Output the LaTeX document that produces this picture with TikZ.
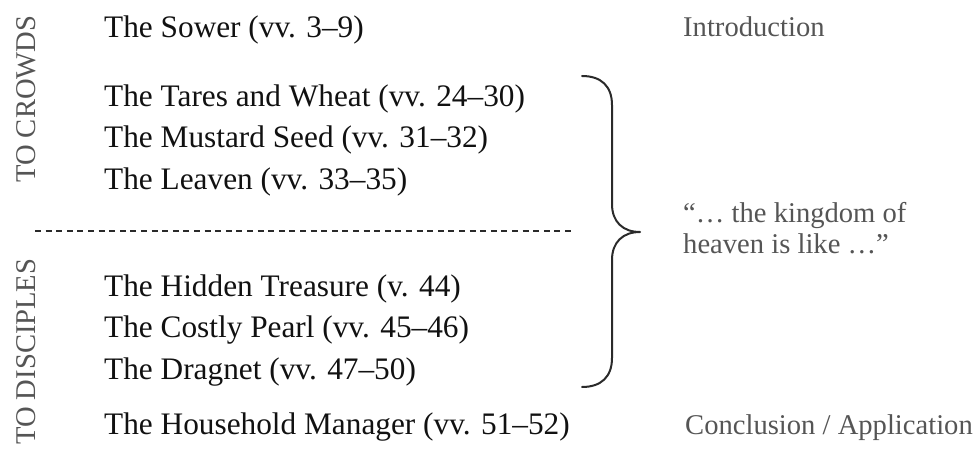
\documentclass[tikz,border=0pt]{standalone}
\usepackage{fontspec}
\setmainfont{Liberation Serif}
\definecolor{maintext}{HTML}{111111}
\definecolor{labeltext}{HTML}{555555}
\definecolor{linecol}{HTML}{2A2A2A}
\begin{document}
\begin{tikzpicture}[x=1pt,y=-1pt,
  item/.style={anchor=base west,inner sep=0pt,text=maintext,font=\fontsize{31.3}{37}\selectfont},
  side/.style={anchor=base west,inner sep=0pt,text=labeltext,font=\fontsize{28.6}{32}\selectfont},
  vlabel/.style={anchor=base west,inner sep=0pt,text=labeltext,rotate=90,font=\fontsize{28.6}{32}\selectfont},
  divider/.style={draw=linecol,line width=2pt,dash pattern=on 6pt off 4.6pt},
  bracecurve/.style={draw=linecol,line width=2pt,line cap=round,line join=round}]
\useasboundingbox (0,0) rectangle (980,449);
% group labels
\node[vlabel] (crowds) at (35,183) {TO CROWDS};
\node[vlabel] (disciples) at (35,445) {TO DISCIPLES};
% parables
\node[item] (sower) at (104,38) {The Sower (vv. 3–9)};
\node[item] (tares) at (104,107) {The Tares and Wheat (vv. 24–30)};
\node[item] (mustard) at (104,148) {The Mustard Seed (vv. 31–32)};
\node[item] (leaven) at (104,190) {The Leaven (vv. 33–35)};
\node[item] (hidden) at (104,296) {The Hidden Treasure (v. 44)};
\node[item] (pearl) at (104,337) {The Costly Pearl (vv. 45–46)};
\node[item] (dragnet) at (104,379) {The Dragnet (vv. 47–50)};
\node[item] (household) at (104,434) {The Household Manager (vv. 51–52)};
% divider
\coordinate (dl) at (35,231);
\coordinate (dr) at (572,231);
\draw[divider] (dl) -- (dr);
% brace
\coordinate (btop) at (582,76);
\coordinate (bbot) at (582,387);
\coordinate (btip) at (640,232);
\draw[bracecurve] (btop) .. controls (601,76) and (612,86) .. (612,105)
  -- (612,204) .. controls (612,222) and (623,232) .. (btip)
  .. controls (623,232) and (612,242) .. (612,260)
  -- (612,358) .. controls (612,377) and (601,387) .. (bbot);
% right side labels
\node[side] (intro) at (683,37) {Introduction};
\node[side] (quote1) at (683,223) {“… the kingdom of};
\node[side] (quote2) at (683,254) {heaven is like …”};
\node[side] (concl) at (685,434) {Conclusion / Application};
\end{tikzpicture}
\end{document}
